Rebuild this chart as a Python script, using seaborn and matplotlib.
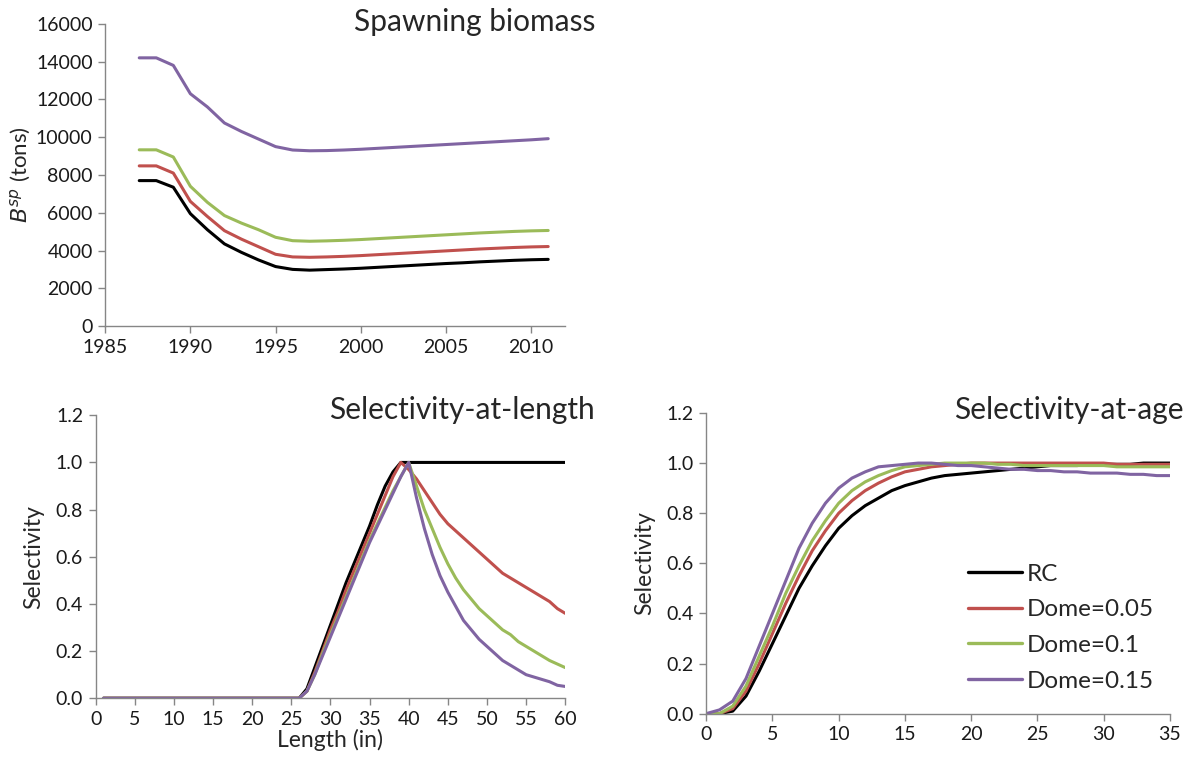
import matplotlib
matplotlib.use("Agg")
import matplotlib.pyplot as plt
import numpy as np
import pandas as pd
import seaborn as sns

sns.set_theme(style="white")
plt.rcParams["font.family"] = ["Lato", "DejaVu Sans"]
plt.rcParams["mathtext.fontset"] = "dejavusans"

# ── Data ──
scenarios = ["RC", "Dome=0.05", "Dome=0.1", "Dome=0.15"]
colors = ["#000000", "#C0504D", "#9BBB59", "#8064A2"]

years = list(range(1987, 2012))
ssb_rc = [7700, 7700, 7350, 5950, 5100, 4350, 3900, 3500, 3150, 3000, 2960, 2990, 3020,
          3060, 3110, 3160, 3210, 3260, 3310, 3350, 3400, 3440, 3480, 3510, 3530]
ssb_d05 = [8480, 8480, 8100, 6600, 5800, 5050, 4600, 4200, 3800, 3660, 3640, 3660, 3690,
           3730, 3780, 3830, 3880, 3930, 3980, 4030, 4080, 4120, 4160, 4190, 4210]
ssb_d10 = [9330, 9330, 8950, 7400, 6550, 5850, 5450, 5100, 4700, 4520, 4490, 4510, 4540,
           4580, 4630, 4680, 4730, 4780, 4830, 4880, 4930, 4970, 5010, 5040, 5060]
ssb_d15 = [14200, 14200, 13800, 12300, 11600, 10750, 10300, 9900, 9500, 9320, 9280, 9290, 9320,
           9360, 9410, 9460, 9510, 9560, 9610, 9660, 9710, 9760, 9810, 9860, 9920]

lengths = list(range(1, 61))
zeros_1_26 = [0.0] * 26
sel_len_rc = zeros_1_26 + [0.04, 0.13, 0.22, 0.31, 0.40, 0.49, 0.57, 0.65, 0.73, 0.82, 0.90, 0.96, 1.0,
                           1.0, 1.0, 1.0, 1.0, 1.0, 1.0, 1.0, 1.0, 1.0, 1.0, 1.0, 1.0, 1.0, 1.0, 1.0,
                           1.0, 1.0, 1.0, 1.0, 1.0, 1.0]
sel_len_d05 = zeros_1_26 + [0.03, 0.11, 0.20, 0.29, 0.37, 0.46, 0.54, 0.62, 0.70, 0.78, 0.86, 0.94, 1.0,
                            0.97, 0.93, 0.88, 0.83, 0.78, 0.74, 0.71, 0.68, 0.65, 0.62, 0.59, 0.56,
                            0.53, 0.51, 0.49, 0.47, 0.45, 0.43, 0.41, 0.38, 0.36]
sel_len_d10 = zeros_1_26 + [0.03, 0.10, 0.19, 0.27, 0.35, 0.43, 0.51, 0.59, 0.67, 0.74, 0.81, 0.88, 0.94,
                            1.0, 0.90, 0.80, 0.72, 0.64, 0.57, 0.51, 0.46, 0.42, 0.38, 0.35, 0.32,
                            0.29, 0.27, 0.24, 0.22, 0.20, 0.18, 0.16, 0.145, 0.13]
sel_len_d15 = zeros_1_26 + [0.03, 0.10, 0.18, 0.26, 0.34, 0.42, 0.50, 0.58, 0.66, 0.73, 0.80, 0.87, 0.94,
                            1.0, 0.85, 0.72, 0.61, 0.52, 0.45, 0.39, 0.33, 0.29, 0.25, 0.22, 0.19,
                            0.16, 0.14, 0.12, 0.10, 0.09, 0.08, 0.07, 0.055, 0.05]

ages = list(range(0, 36))
sel_age_rc = [0.0, 0.0, 0.01, 0.07, 0.17, 0.28, 0.39, 0.50, 0.59, 0.67, 0.74, 0.79, 0.83, 0.86,
              0.89, 0.91, 0.925, 0.94, 0.95, 0.955, 0.96, 0.965, 0.97, 0.975, 0.98, 0.985,
              0.99, 0.99, 0.99, 0.995, 0.995, 0.995, 0.995, 1.0, 1.0, 1.0]
sel_age_d05 = [0.0, 0.0, 0.02, 0.09, 0.20, 0.32, 0.44, 0.55, 0.65, 0.73, 0.80, 0.85, 0.89, 0.92,
               0.945, 0.965, 0.975, 0.985, 0.99, 0.995, 1.0, 1.0, 1.0, 1.0, 1.0, 1.0,
               1.0, 1.0, 1.0, 1.0, 1.0, 0.995, 0.995, 0.995, 0.995, 0.995]
sel_age_d10 = [0.0, 0.0, 0.03, 0.11, 0.23, 0.35, 0.48, 0.59, 0.69, 0.77, 0.84, 0.89, 0.925, 0.95,
               0.97, 0.985, 0.99, 0.995, 1.0, 1.0, 1.0, 1.0, 0.995, 0.995, 0.99, 0.99,
               0.99, 0.99, 0.99, 0.99, 0.99, 0.985, 0.985, 0.985, 0.985, 0.985]
sel_age_d15 = [0.0, 0.015, 0.05, 0.14, 0.27, 0.40, 0.53, 0.66, 0.76, 0.84, 0.90, 0.94, 0.965, 0.985,
               0.99, 0.995, 1.0, 1.0, 0.995, 0.99, 0.99, 0.985, 0.98, 0.975, 0.975, 0.97,
               0.97, 0.965, 0.965, 0.96, 0.96, 0.96, 0.955, 0.955, 0.95, 0.95]


def long_df(x, series, xname):
    frames = []
    for name, vals in zip(scenarios, series):
        frames.append(pd.DataFrame({xname: x, "value": vals, "scenario": name}))
    return pd.concat(frames, ignore_index=True)


df_ssb = long_df(years, [ssb_rc, ssb_d05, ssb_d10, ssb_d15], "year")
df_len = long_df(lengths, [sel_len_rc, sel_len_d05, sel_len_d10, sel_len_d15], "length")
df_age = long_df(ages, [sel_age_rc, sel_age_d05, sel_age_d10, sel_age_d15], "age")

AXIS_GRAY = "#868686"


def excel_style(ax):
    for side in ["top", "right"]:
        ax.spines[side].set_visible(False)
    for side in ["left", "bottom"]:
        ax.spines[side].set_color(AXIS_GRAY)
        ax.spines[side].set_linewidth(1.0)
    ax.tick_params(direction="out", length=5, width=1, color=AXIS_GRAY,
                   labelsize=14, labelcolor="#1a1a1a", pad=4, left=True, bottom=True)


fig = plt.figure(figsize=(11.95, 7.69), dpi=100)
ax1 = fig.add_axes([0.088, 0.576, 0.385, 0.393])
ax2 = fig.add_axes([0.080, 0.092, 0.393, 0.368])
ax3 = fig.add_axes([0.591, 0.072, 0.388, 0.391])

kw = dict(hue="scenario", hue_order=scenarios, palette=colors, linewidth=2.2)

# Spawning biomass
sns.lineplot(data=df_ssb, x="year", y="value", ax=ax1, legend=False, **kw)
ax1.set_xlim(1985, 2012)
ax1.set_ylim(0, 16000)
ax1.set_xticks(range(1985, 2011, 5))
ax1.set_yticks(range(0, 16001, 2000))
ax1.set_xlabel("")
ax1.set_ylabel(r"$B^{sp}$ (tons)", fontsize=16, labelpad=2)
excel_style(ax1)

# Selectivity-at-length
sns.lineplot(data=df_len, x="length", y="value", ax=ax2, legend=False, **kw)
ax2.set_xlim(0, 60)
ax2.set_ylim(0, 1.2)
ax2.set_xticks(range(0, 61, 5))
ax2.set_yticks(np.arange(0, 1.21, 0.2))
ax2.yaxis.set_major_formatter(matplotlib.ticker.FormatStrFormatter("%.1f"))
ax2.set_xlabel("Length (in)", fontsize=16.5, labelpad=1)
ax2.set_ylabel("Selectivity", fontsize=16.5, labelpad=8)
excel_style(ax2)

# Selectivity-at-age
sns.lineplot(data=df_age, x="age", y="value", ax=ax3, **kw)
ax3.set_xlim(0, 35)
ax3.set_ylim(0, 1.2)
ax3.set_xticks(range(0, 36, 5))
ax3.set_yticks(np.arange(0, 1.21, 0.2))
ax3.yaxis.set_major_formatter(matplotlib.ticker.FormatStrFormatter("%.1f"))
ax3.set_xlabel("")
ax3.set_ylabel("Selectivity", fontsize=16.5, labelpad=8)
excel_style(ax3)
leg = ax3.legend(loc="center left", bbox_to_anchor=(0.565, 0.286), frameon=False,
                 fontsize=17.5, handlelength=2.2, handletextpad=0.2, labelspacing=0.6,
                 borderaxespad=0, borderpad=0)
for line in leg.get_lines():
    line.set_linewidth(2.4)

# panel titles, right-aligned like the original
fig.text(0.498, 0.971, "Spawning biomass", fontsize=21.5, ha="right", va="center")
fig.text(0.498, 0.467, "Selectivity-at-length", fontsize=21.5, ha="right", va="center")
fig.text(0.990, 0.467, "Selectivity-at-age", fontsize=21.5, ha="right", va="center")

fig.savefig("out.png", dpi=100)
